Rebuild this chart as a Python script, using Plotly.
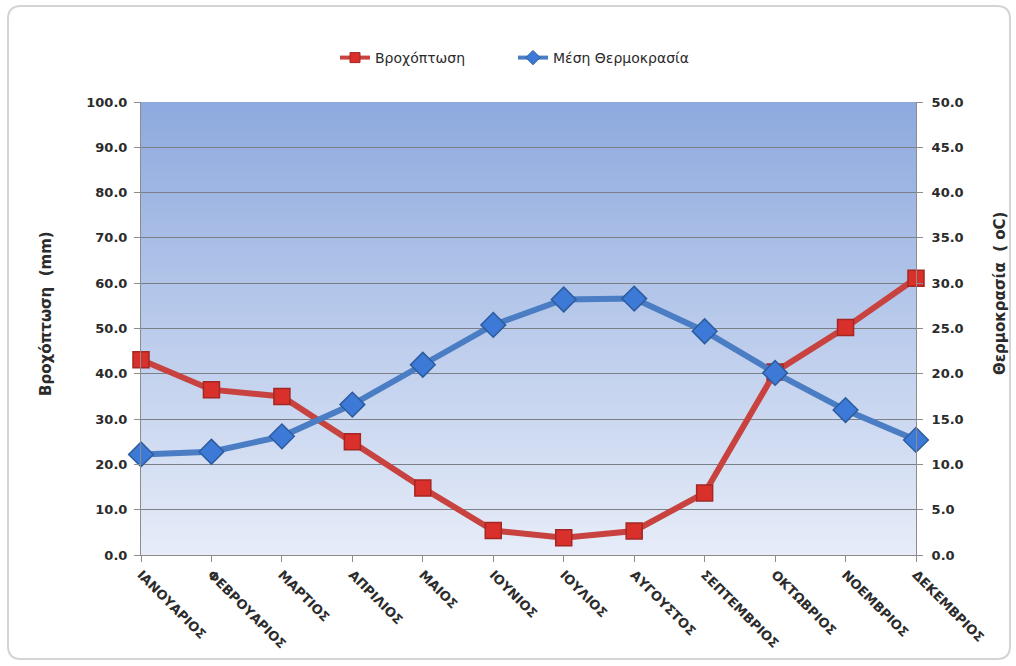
import plotly.graph_objects as go

# Monthly climate data
months = ["ΙΑΝΟΥΑΡΙΟΣ", "ΦΕΒΡΟΥΑΡΙΟΣ", "ΜΑΡΤΙΟΣ", "ΑΠΡΙΛΙΟΣ", "ΜΑΙΟΣ", "ΙΟΥΝΙΟΣ",
          "ΙΟΥΛΙΟΣ", "ΑΥΓΟΥΣΤΟΣ", "ΣΕΠΤΕΜΒΡΙΟΣ", "ΟΚΤΩΒΡΙΟΣ", "ΝΟΕΜΒΡΙΟΣ", "ΔΕΚΕΜΒΡΙΟΣ"]
rain_mm = [43.1, 36.5, 35.0, 25.0, 14.8, 5.4, 3.8, 5.3, 13.7, 40.4, 50.2, 61.1]
temp_c = [11.1, 11.4, 13.1, 16.6, 21.0, 25.4, 28.2, 28.3, 24.7, 20.1, 16.0, 12.7]

rain_name = "Βροχόπτωση"
temp_name = "Μέση Θερμοκρασία"
rain_title = "Βροχόπτωση  (mm)"
temp_title = "Θερμοκρασία  ( oC)"

FONT = "DejaVu Sans"
TXT = "#2b2b2b"
AXIS = "#8c8c8c"
RED_LINE, RED_FILL, RED_EDGE = "#C8433F", "#D9302B", "#A32722"
BLUE_LINE, BLUE_FILL, BLUE_EDGE = "#4A7DC3", "#3D79D6", "#2C5C9E"

fig = go.Figure()

fig.add_trace(go.Scatter(
    x=months, y=rain_mm, name=rain_name, mode="lines+markers",
    line=dict(color=RED_LINE, width=6),
    marker=dict(symbol="square", size=16, color=RED_FILL,
                line=dict(color=RED_EDGE, width=1.5)),
    cliponaxis=False, yaxis="y", showlegend=False,
))
fig.add_trace(go.Scatter(
    x=months, y=temp_c, name=temp_name, mode="lines+markers",
    line=dict(color=BLUE_LINE, width=6),
    marker=dict(symbol="diamond", size=19, color=BLUE_FILL,
                line=dict(color=BLUE_EDGE, width=1.5)),
    cliponaxis=False, yaxis="y2", showlegend=False,
))

# Legend entries with smaller symbols
fig.add_trace(go.Scatter(
    x=[None], y=[None], name=rain_name, mode="lines+markers",
    line=dict(color=RED_LINE, width=4),
    marker=dict(symbol="square", size=10, color=RED_FILL, line=dict(color=RED_EDGE, width=1)),
))
fig.add_trace(go.Scatter(
    x=[None], y=[None], name=temp_name, mode="lines+markers",
    line=dict(color=BLUE_LINE, width=4),
    marker=dict(symbol="diamond", size=11, color=BLUE_FILL, line=dict(color=BLUE_EDGE, width=1)),
))

# Vertical gradient behind the plot area
shapes = []
n = 160
top = (141, 169, 222)
bot = (230, 236, 248)
for i in range(n):
    t = i / (n - 1)
    c = tuple(round(top[k] + (bot[k] - top[k]) * t) for k in range(3))
    y1 = min(1.0, 1 - i / n + 0.6 / n)
    y0 = max(0.0, 1 - (i + 1) / n - 0.6 / n)
    shapes.append(dict(type="rect", xref="paper", yref="paper",
                       x0=0, x1=1, y0=y0, y1=y1, layer="below",
                       line=dict(width=0), fillcolor="rgb(%d,%d,%d)" % c))

# Rounded outer frame
W, H = 1016, 666
ml, mr, mt, mb = 141, 100, 102, 111
pw, ph = W - ml - mr, H - mt - mb


def px(x):
    return (x - ml) / pw


def py(y):
    return (H - mb - y) / ph


x0, y0, x1, y1, r = 8, 6, 1010, 659, 13
path = (f"M {px(x0 + r)} {py(y0)} L {px(x1 - r)} {py(y0)} "
        f"Q {px(x1)} {py(y0)} {px(x1)} {py(y0 + r)} L {px(x1)} {py(y1 - r)} "
        f"Q {px(x1)} {py(y1)} {px(x1 - r)} {py(y1)} L {px(x0 + r)} {py(y1)} "
        f"Q {px(x0)} {py(y1)} {px(x0)} {py(y1 - r)} L {px(x0)} {py(y0 + r)} "
        f"Q {px(x0)} {py(y0)} {px(x0 + r)} {py(y0)} Z")
shapes.append(dict(type="path", xref="paper", yref="paper", path=path,
                   line=dict(color="#d4d4d4", width=2), layer="below"))

title_font = dict(family=FONT, size=15, color=TXT, weight="bold")
annotations = [
    dict(text=rain_title, xref="paper", yref="paper", x=px(46), y=py(314),
         xanchor="center", yanchor="middle", textangle=-90, showarrow=False,
         font=title_font),
    dict(text=temp_title, xref="paper", yref="paper", x=px(1000), y=py(294),
         xanchor="center", yanchor="middle", textangle=-90, showarrow=False,
         font=title_font),
]

tick_font = dict(family=FONT, size=13, color=TXT, weight="bold")

fig.update_layout(
    width=W, height=H,
    margin=dict(l=ml, r=mr, t=mt, b=mb),
    paper_bgcolor="white", plot_bgcolor="white",
    shapes=shapes, annotations=annotations,
    font=dict(family=FONT, color=TXT),
    showlegend=True,
    legend=dict(orientation="h", x=px(335), xanchor="left", y=py(58), yanchor="middle",
                font=dict(family=FONT, size=14, color=TXT),
                entrywidth=133, entrywidthmode="pixels", bgcolor="rgba(0,0,0,0)"),
    xaxis=dict(
        type="category", range=[0, len(months) - 1],
        showgrid=False, showline=True, linecolor=AXIS, linewidth=1,
        ticks="outside", ticklen=6, tickcolor=AXIS, tickangle=45,
        tickfont=tick_font, zeroline=False,
    ),
    yaxis=dict(
        range=[0, 100], dtick=10, tickformat=".1f",
        showgrid=True, gridcolor="#7a7f88", gridwidth=1,
        showline=True, linecolor=AXIS, linewidth=1,
        ticks="outside", ticklen=6, tickcolor=AXIS, ticklabelstandoff=4,
        tickfont=tick_font, zeroline=False,
    ),
    yaxis2=dict(
        range=[0, 50], dtick=5, tickformat=".1f", overlaying="y", side="right",
        showgrid=False, showline=True, linecolor=AXIS, linewidth=1,
        ticks="outside", ticklen=6, tickcolor=AXIS, ticklabelstandoff=6,
        tickfont=tick_font, zeroline=False,
    ),
)

fig.write_html("out.html")
